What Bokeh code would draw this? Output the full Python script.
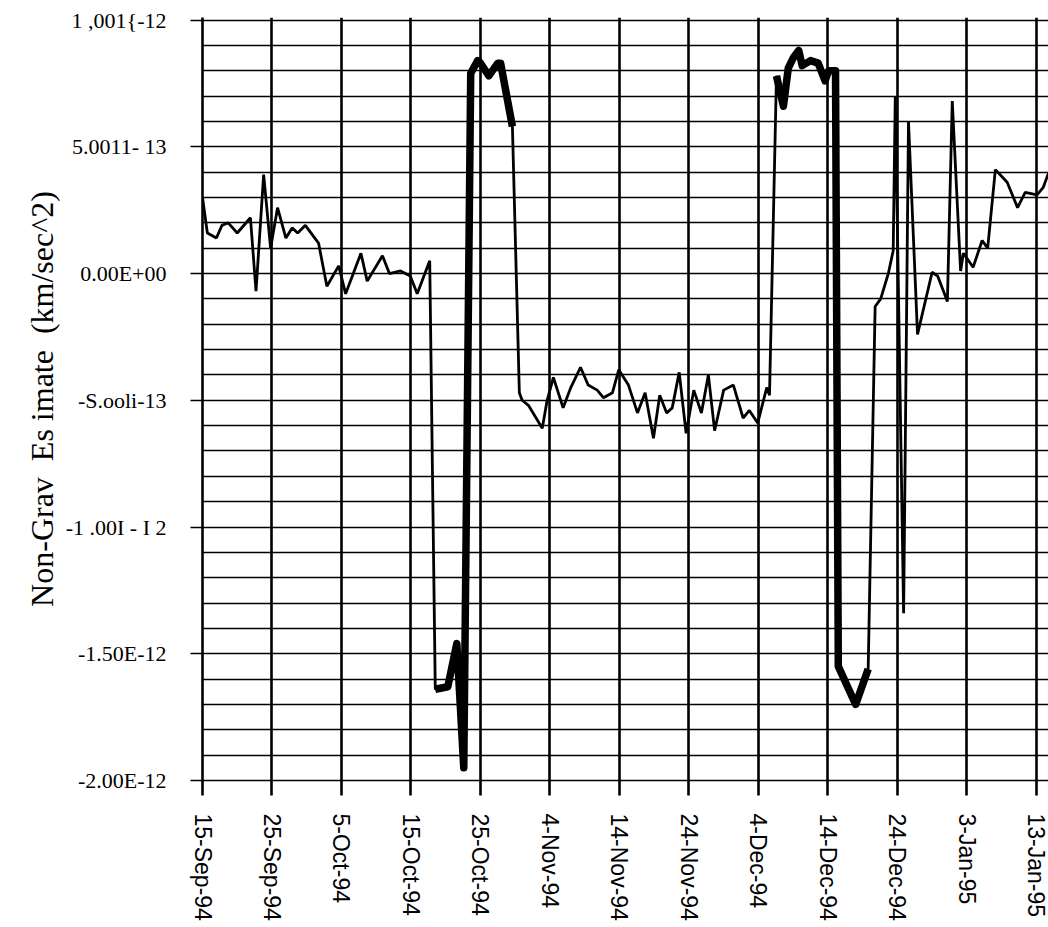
from bokeh.plotting import figure
from bokeh.models import FixedTicker, Range1d
from bokeh.embed import file_html
from bokeh.resources import INLINE

# Days since 15-Sep-94
days = [0.0, 0.7, 2.0, 2.8, 3.7, 5.0, 6.9, 7.7, 8.8, 9.8,
        10.8, 12.0, 12.9, 13.7, 14.8, 16.7, 17.9, 19.6, 20.6, 22.8,
        23.7, 25.9, 26.9, 28.5, 29.9, 30.9, 32.7, 33.5, 35.3, 36.6,
        37.6, 38.6, 39.6, 40.0, 41.2, 42.5, 42.9, 44.6, 45.6, 46.0,
        46.9, 48.9, 49.6, 50.5, 51.9, 53.0, 54.4, 55.5, 56.8, 57.7,
        59.0, 59.9, 61.3, 62.6, 63.7, 64.9, 65.8, 66.8, 67.6, 68.6,
        69.6, 70.7, 71.8, 72.8, 73.7, 75.0, 76.4, 77.8, 78.7, 79.9,
        81.2, 81.6, 82.6, 83.6, 84.3, 85.0, 85.8, 86.3, 87.5, 88.6,
        89.6, 90.1, 91.1, 91.5, 94.0, 95.8, 96.8, 97.6, 98.7, 99.4,
        99.7, 100.9, 101.6, 102.9, 105.0, 105.8, 107.2, 107.9, 109.1, 109.5,
        110.9, 112.2, 113.0, 114.1, 115.8, 117.3, 118.4, 120.1, 121.0, 121.8]

# Non-grav estimate in units of 1e-13 km/sec^2
vals = [3.0, 1.6, 1.4, 1.9, 2.0, 1.6, 2.2, -0.7, 3.9, 1.0,
        2.6, 1.4, 1.8, 1.6, 1.9, 1.2, -0.5, 0.3, -0.8, 0.8,
        -0.3, 0.7, 0.0, 0.1, -0.1, -0.8, 0.5, -16.4, -16.3, -14.6,
        -19.5, 7.9, 8.4, 8.3, 7.8, 8.3, 8.3, 5.8, -4.7, -5.0,
        -5.2, -6.1, -5.0, -4.1, -5.3, -4.5, -3.7, -4.4, -4.6, -4.9,
        -4.7, -3.8, -4.4, -5.5, -4.7, -6.5, -4.8, -5.5, -5.3, -3.9,
        -6.3, -4.6, -5.5, -4.0, -6.2, -4.6, -4.4, -5.7, -5.4, -5.9,
        -4.5, -4.8, 7.8, 6.6, 8.1, 8.5, 8.8, 8.2, 8.4, 8.3,
        7.6, 8.0, 8.0, -15.5, -17.0, -15.6, -1.3, -1.0, 0.0, 0.9,
        7.0, -13.4, 6.0, -2.4, 0.05, -0.1, -1.1, 6.8, 0.1, 0.8,
        0.25, 1.3, 1.0, 4.1, 3.6, 2.6, 3.2, 3.1, 3.4, 4.0]

# Periods (days since 15-Sep-94) drawn with the heavy trace
bold_periods = [(33.5, 44.6), (82.6, 95.8)]

x_tick_days = [0, 10, 20, 30, 40, 50, 60, 70, 80, 90, 100, 110, 120]
x_tick_labels = ["15-Sep-94", "25-Sep-94", "5-Oct-94", "15-Oct-94", "25-Oct-94",
                 "4-Nov-94", "14-Nov-94", "24-Nov-94", "4-Dec-94", "14-Dec-94",
                 "24-Dec-94", "3-Jan-95", "13-Jan-95"]

y_tick_vals = [10, 5, 0, -5, -10, -15, -20]
y_tick_labels = ["1 ,001{-12", "5.0011- 13", "0.00E+00", "-S.ooli-13",
                 "-1 .00I - I 2", "-1.50E-12", "-2.00E-12"]
y_grid_vals = list(range(-20, 11))

y_title = "Non-Grav\u00a0\u00a0Es imate\u00a0\u00a0(km/sec^2)"

p = figure(width=1048, height=927,
           x_range=Range1d(0, 121.75), y_range=Range1d(-20, 10.1),
           output_backend="svg", toolbar_location=None,
           min_border_left=202, min_border_right=0,
           min_border_top=17, min_border_bottom=147)
p.outline_line_color = None
p.background_fill_color = "white"
p.border_fill_color = "white"

# grids
p.xgrid.ticker = FixedTicker(ticks=x_tick_days)
p.xgrid.grid_line_color = "black"
p.xgrid.grid_line_width = 2.6
p.ygrid.ticker = FixedTicker(ticks=y_grid_vals)
p.ygrid.grid_line_color = "black"
p.ygrid.grid_line_width = 1.5

# data
p.line(days, vals, line_color="black", line_width=2.8)
for a, b in bold_periods:
    xs = [d for d in days if a <= d <= b]
    ys = [v for d, v in zip(days, vals) if a <= d <= b]
    p.line(xs, ys, line_color="black", line_width=7.5, line_join="round")

# x axis
xa = p.xaxis[0]
xa.ticker = FixedTicker(ticks=x_tick_days)
xa.major_label_overrides = {d: l for d, l in zip(x_tick_days, x_tick_labels)}
xa.major_label_orientation = "vertical"
xa.major_label_text_font = "Liberation Sans"
xa.major_label_text_font_size = "23px"
xa.major_label_text_color = "black"
xa.major_label_standoff = 18
xa.axis_line_color = "black"
xa.axis_line_width = 1.5
xa.major_tick_line_color = "black"
xa.major_tick_line_width = 2.6
xa.major_tick_out = 15
xa.major_tick_in = 0
xa.minor_tick_line_color = None

# y axis
ya = p.yaxis[0]
ya.ticker = FixedTicker(ticks=y_tick_vals)
ya.major_label_overrides = {v: l for v, l in zip(y_tick_vals, y_tick_labels)}
ya.major_label_text_font = "Liberation Serif"
ya.major_label_text_font_size = "22px"
ya.major_label_text_color = "black"
ya.major_label_standoff = 24
ya.axis_line_color = "black"
ya.axis_line_width = 2.6
ya.major_tick_line_color = "black"
ya.major_tick_line_width = 1.5
ya.major_tick_out = 12
ya.major_tick_in = 0
ya.minor_tick_line_color = None
ya.axis_label = y_title
ya.axis_label_text_font = "Liberation Serif"
ya.axis_label_text_font_size = "32px"
ya.axis_label_text_font_style = "normal"
ya.axis_label_text_color = "black"
ya.axis_label_standoff = 3

open("out.html", "w").write(file_html(p, INLINE))
